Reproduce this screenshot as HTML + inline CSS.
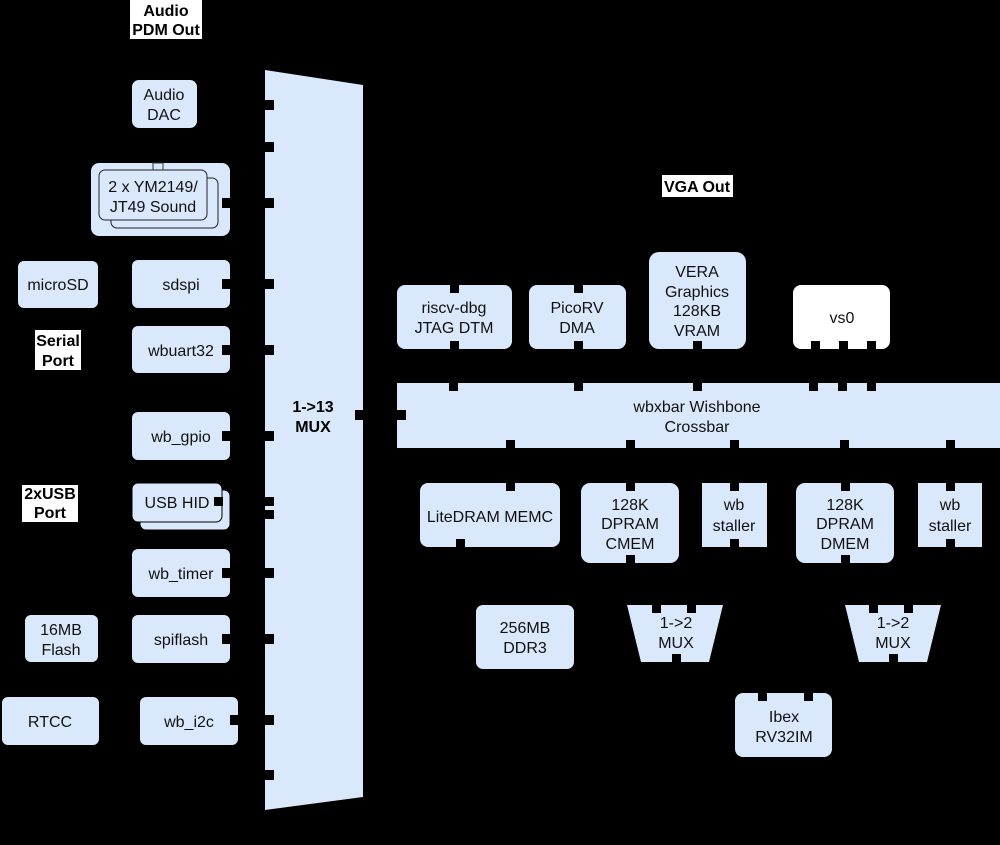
<!DOCTYPE html>
<html><head><meta charset="utf-8"><style>
html,body{margin:0;padding:0;background:#000;}
svg{display:block}
text{font-family:"Liberation Sans",sans-serif;font-size:16px;fill:#111;text-anchor:middle}
.b{font-weight:bold;fill:#000}
</style></head><body>
<svg width="1000" height="845" viewBox="0 0 1000 845" xmlns="http://www.w3.org/2000/svg">
<rect width="1000" height="845" fill="#000"/>
<g fill="#dae8fc">
<!-- left column -->
<rect x="132" y="80" width="65" height="48" rx="7"/>
<rect x="91" y="163" width="139" height="73" rx="8"/>
<rect x="18" y="261" width="80" height="47" rx="6"/>
<rect x="132" y="260" width="98" height="48" rx="6"/>
<rect x="132" y="326" width="98" height="47" rx="6"/>
<rect x="132" y="412" width="98" height="48" rx="6"/>
<rect x="140" y="490" width="90" height="40" rx="6" stroke="#000" stroke-width="1"/>
<rect x="132" y="483" width="90" height="39" rx="6" stroke="#000" stroke-width="1"/>
<rect x="132" y="549" width="98" height="48" rx="6"/>
<rect x="25" y="615" width="73" height="47" rx="6"/>
<rect x="132" y="615" width="98" height="48" rx="6"/>
<rect x="2" y="697" width="97" height="48" rx="6"/>
<rect x="140" y="697" width="98" height="48" rx="6"/>
<!-- mux -->
<polygon points="265,70 363,85 363,797 265,810"/>
<!-- top row -->
<rect x="397" y="285" width="115" height="64" rx="8"/>
<rect x="529" y="285" width="97" height="64" rx="8"/>
<rect x="649" y="252" width="97" height="97" rx="10"/>
<rect x="397" y="383" width="603" height="65"/>
<rect x="420" y="483" width="140" height="64" rx="8"/>
<rect x="581" y="483" width="98" height="80" rx="9"/>
<rect x="702" y="483" width="65" height="64"/>
<rect x="796" y="483" width="98" height="80" rx="9"/>
<rect x="918" y="483" width="64" height="64"/>
<rect x="476" y="605" width="98" height="64" rx="7"/>
<polygon points="627,605 723,605 709,662 641,662"/>
<polygon points="845,605 941,605 927,662 859,662"/>
<rect x="735" y="693" width="97" height="64" rx="8"/>
</g>
<rect x="793" y="285" width="97" height="64" rx="8" fill="#fff"/>
<!-- YM stacked -->
<rect x="153" y="163" width="10" height="8" fill="none" stroke="#333" stroke-width="1"/>
<rect x="111" y="178" width="107" height="50" rx="6" fill="#dae8fc" stroke="#222" stroke-width="1"/>
<rect x="99" y="170" width="108" height="50" rx="6" fill="#dae8fc" stroke="#222" stroke-width="1"/>
<!-- ports -->
<g fill="#000">
<rect x="222" y="198" width="9" height="10"/>
<rect x="222" y="279" width="9" height="10"/>
<rect x="222" y="345" width="9" height="10"/>
<rect x="222" y="431" width="9" height="10"/>
<rect x="214" y="497" width="9" height="9"/>
<rect x="222" y="568" width="9" height="10"/>
<rect x="222" y="634" width="9" height="10"/>
<rect x="230" y="715" width="9" height="10"/>
<rect x="265" y="100" width="9" height="10"/>
<rect x="265" y="142" width="9" height="10"/>
<rect x="265" y="198" width="9" height="10"/>
<rect x="265" y="279" width="9" height="10"/>
<rect x="265" y="345" width="9" height="10"/>
<rect x="265" y="431" width="9" height="10"/>
<rect x="265" y="497" width="9" height="9"/>
<rect x="265" y="510" width="9" height="9"/>
<rect x="265" y="568" width="9" height="10"/>
<rect x="265" y="634" width="9" height="10"/>
<rect x="265" y="715" width="9" height="10"/>
<rect x="265" y="770" width="9" height="10"/>
<rect x="355" y="410" width="9" height="10"/>
<rect x="397" y="410" width="9" height="10"/>
<rect x="450" y="285" width="9" height="8"/><rect x="450" y="341" width="9" height="8"/>
<rect x="574" y="285" width="9" height="8"/><rect x="574" y="341" width="9" height="8"/>
<rect x="693" y="341" width="9" height="8"/>
<rect x="811" y="341" width="9" height="8"/><rect x="839" y="341" width="9" height="8"/><rect x="867" y="341" width="9" height="8"/>
<rect x="449" y="383" width="9" height="8"/><rect x="574" y="383" width="9" height="8"/><rect x="693" y="383" width="9" height="8"/>
<rect x="809" y="383" width="9" height="8"/><rect x="838" y="383" width="9" height="8"/><rect x="867" y="383" width="9" height="8"/>
<rect x="506" y="440" width="9" height="8"/><rect x="626" y="440" width="9" height="8"/><rect x="730" y="440" width="9" height="8"/>
<rect x="840" y="440" width="9" height="8"/><rect x="946" y="440" width="9" height="8"/>
<rect x="506" y="483" width="9" height="8"/><rect x="456" y="539" width="9" height="8"/>
<rect x="626" y="483" width="9" height="8"/><rect x="626" y="555" width="9" height="8"/>
<rect x="730" y="483" width="9" height="8"/><rect x="730" y="539" width="9" height="8"/>
<rect x="841" y="483" width="9" height="8"/><rect x="841" y="555" width="9" height="8"/>
<rect x="946" y="483" width="9" height="8"/><rect x="946" y="539" width="9" height="8"/>
<rect x="652" y="605" width="9" height="8"/><rect x="687" y="605" width="9" height="8"/><rect x="672" y="654" width="9" height="8"/>
<rect x="869" y="605" width="9" height="8"/><rect x="904" y="605" width="9" height="8"/><rect x="889" y="654" width="9" height="8"/>
<rect x="758" y="693" width="9" height="8"/><rect x="804" y="693" width="9" height="8"/>
</g>
<!-- label boxes -->
<g fill="#fff">
<rect x="130" y="0" width="72" height="39"/>
<rect x="35" y="330" width="46" height="40"/>
<rect x="22" y="485" width="56" height="37"/>
<rect x="662" y="175" width="71" height="22"/>
</g>
<g class="b">
<text class="b" x="166" y="16">Audio</text><text class="b" x="166" y="35">PDM Out</text>
<text class="b" x="58" y="346">Serial</text><text class="b" x="58" y="366">Port</text>
<text class="b" x="50" y="499">2xUSB</text><text class="b" x="50" y="518">Port</text>
<text class="b" x="697" y="192">VGA Out</text>
<text class="b" x="313" y="412">1-&gt;13</text><text class="b" x="313" y="432">MUX</text>
</g>
<text x="164" y="100">Audio</text><text x="164" y="120">DAC</text>
<text x="153" y="192">2 x YM2149/</text><text x="153" y="212">JT49 Sound</text>
<text x="58" y="290">microSD</text>
<text x="181" y="290">sdspi</text>
<text x="181" y="356">wbuart32</text>
<text x="181" y="442">wb_gpio</text>
<text x="177" y="508">USB HID</text>
<text x="181" y="579">wb_timer</text>
<text x="61" y="635">16MB</text><text x="61" y="655">Flash</text>
<text x="181" y="645">spiflash</text>
<text x="50" y="727">RTCC</text>
<text x="189" y="727">wb_i2c</text>
<text x="454" y="313">riscv-dbg</text><text x="454" y="333">JTAG DTM</text>
<text x="577" y="313">PicoRV</text><text x="577" y="333">DMA</text>
<text x="697" y="277">VERA</text><text x="697" y="297">Graphics</text><text x="697" y="316">128KB</text><text x="697" y="336">VRAM</text>
<text x="842" y="323">vs0</text>
<text x="697" y="412">wbxbar Wishbone</text><text x="697" y="432">Crossbar</text>
<text x="490" y="522">LiteDRAM MEMC</text>
<text x="630" y="510">128K</text><text x="630" y="529">DPRAM</text><text x="630" y="549">CMEM</text>
<text x="734" y="510">wb</text><text x="734" y="531">staller</text>
<text x="845" y="510">128K</text><text x="845" y="529">DPRAM</text><text x="845" y="549">DMEM</text>
<text x="950" y="510">wb</text><text x="950" y="531">staller</text>
<text x="525" y="633">256MB</text><text x="525" y="653">DDR3</text>
<text x="676" y="628">1-&gt;2</text><text x="676" y="648">MUX</text>
<text x="893" y="628">1-&gt;2</text><text x="893" y="648">MUX</text>
<text x="784" y="722">Ibex</text><text x="784" y="742">RV32IM</text>
</svg>
</body></html>
